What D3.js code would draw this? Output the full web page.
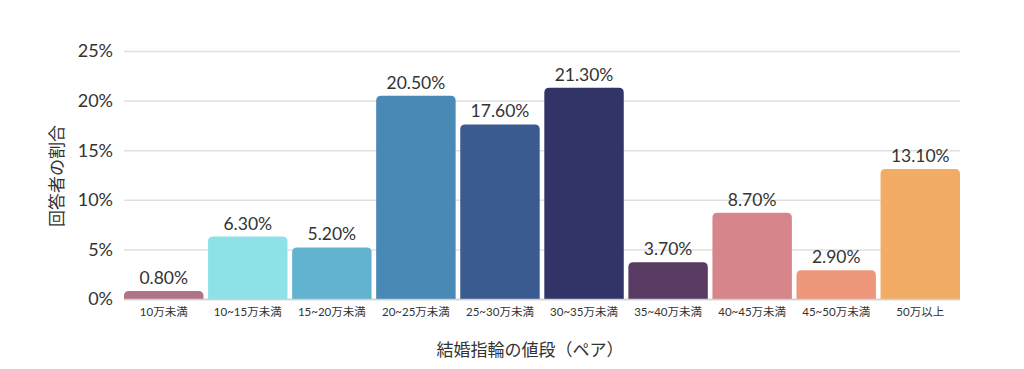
<!DOCTYPE html>
<html lang="ja">
<head>
  <meta charset="UTF-8">
  <title>結婚指輪の値段</title>
  <script src="https://d3js.org/d3.v7.min.js"></script>
  <style>
    body { margin: 0; background: #fff; font-family: Lato, 'Noto Sans CJK JP', sans-serif; }
    .grid line { stroke: #e0e0e0; stroke-width: 1.5; }
    .grid .domain { display: none; }
    .ytick text { fill: #333; font-size: 18px; }
    .xtick text { fill: #333; font-size: 11.5px; }
    .vlabel { fill: #333; font-size: 17.5px; text-anchor: middle; }
    .title { fill: #333; font-size: 17px; font-family: 'Noto Sans CJK JP', sans-serif; }
  </style>
</head>
<body>
  <svg width="1024" height="369"></svg>
  <script>
    const categories = ["10万未満", "10~15万未満", "15~20万未満", "20~25万未満", "25~30万未満",
      "30~35万未満", "35~40万未満", "40~45万未満", "45~50万未満", "50万以上"];
    const values = [0.8, 6.3, 5.2, 20.5, 17.6, 21.3, 3.7, 8.7, 2.9, 13.1];
    const colors = ["#b07486", "#8de2e7", "#62b3d0", "#4889b5", "#3a5b8f",
      "#323366", "#5a3b63", "#d6868a", "#ee977a", "#f2ac66"];
    const yTicks = [0, 5, 10, 15, 20, 25];

    const svg = d3.select("svg");
    const margin = { top: 51, right: 64, bottom: 70, left: 124 };
    const width = 1024 - margin.left - margin.right;
    const height = 369 - margin.top - margin.bottom;
    const g = svg.append("g").attr("transform", `translate(${margin.left},${margin.top})`);

    const x = d3.scaleBand().domain(categories).range([0, width]).paddingInner(0.055).paddingOuter(0.0);
    const y = d3.scaleLinear().domain([0, 25]).range([height, 0]);

    // gridlines
    g.append("g")
      .attr("class", "grid")
      .call(d3.axisLeft(y).tickValues(yTicks).tickSize(-width).tickFormat(""));

    // y tick labels
    g.append("g")
      .attr("class", "ytick")
      .selectAll("text")
      .data(yTicks)
      .join("text")
      .attr("x", -11)
      .attr("y", d => y(d))
      .attr("dy", "0.35em")
      .attr("text-anchor", "end")
      .text(d => d + "%");

    // bars with rounded top corners
    const r = 5;
    const barPath = (x0, y0, w, h) => {
      const rr = Math.min(r, h, w / 2);
      return `M${x0},${y0 + h}V${y0 + rr}Q${x0},${y0} ${x0 + rr},${y0}H${x0 + w - rr}Q${x0 + w},${y0} ${x0 + w},${y0 + rr}V${y0 + h}Z`;
    };
    g.selectAll(".bar")
      .data(values)
      .join("path")
      .attr("class", "bar")
      .attr("fill", (d, i) => colors[i])
      .attr("d", (d, i) => barPath(x(categories[i]), y(d), x.bandwidth(), height - y(d)));

    // baseline
    g.append("line")
      .attr("x1", 0).attr("x2", width)
      .attr("y1", height + 0.5).attr("y2", height + 0.5)
      .attr("stroke", "#d0d0d0").attr("stroke-width", 1.5);

    // value labels
    g.selectAll(".vlabel")
      .data(values)
      .join("text")
      .attr("class", "vlabel")
      .attr("x", (d, i) => x(categories[i]) + x.bandwidth() / 2)
      .attr("y", d => y(d) - 7)
      .text(d => d.toFixed(2) + "%");

    // x tick labels
    g.append("g")
      .attr("class", "xtick")
      .selectAll("text")
      .data(categories)
      .join("text")
      .attr("x", d => x(d) + x.bandwidth() / 2)
      .attr("y", height + 17)
      .attr("text-anchor", "middle")
      .text(d => d);

    // axis titles
    svg.append("text")
      .attr("class", "title")
      .attr("x", 530)
      .attr("y", 356)
      .attr("text-anchor", "middle")
      .text("結婚指輪の値段（ペア）");

    svg.append("text")
      .attr("class", "title")
      .attr("transform", "translate(63,176) rotate(-90)")
      .attr("text-anchor", "middle")
      .text("回答者の割合");
  </script>
</body>
</html>
